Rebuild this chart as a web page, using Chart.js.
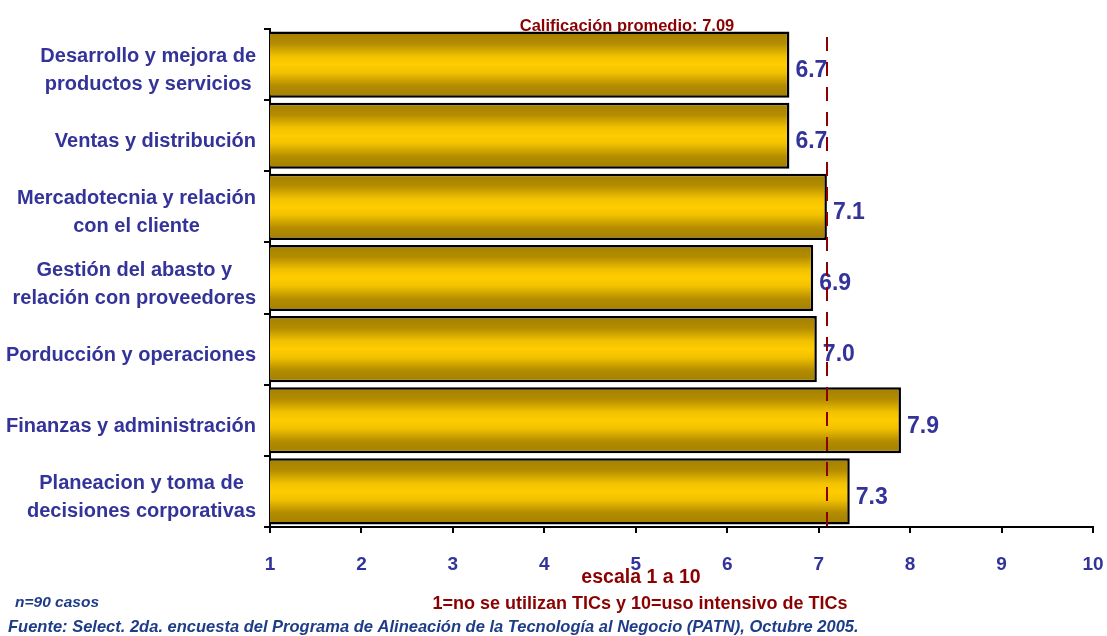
<!DOCTYPE html>
<html>
<head>
<meta charset="utf-8">
<script src="https://cdn.jsdelivr.net/npm/chart.js@4.4.1/dist/chart.umd.min.js"></script>
<style>
  html, body { margin: 0; padding: 0; background: #ffffff; }
  #wrap { width: 1107px; height: 636px; position: relative; }
</style>
</head>
<body>
<div id="wrap"><canvas id="c" width="1107" height="636"></canvas></div>
<script>
// Business areas (multi-line labels)
const categories = [
  ['Desarrollo y mejora de', 'productos y servicios'],
  ['Ventas y distribución'],
  ['Mercadotecnia y relación', 'con el cliente'],
  ['Gestión del abasto y', 'relación con proveedores'],
  ['Porducción y operaciones'],
  ['Finanzas y administración'],
  ['Planeacion y toma de', 'decisiones corporativas']
];
// Average ICT usage score per area (scale 1 to 10)
const scores = [6.68, 6.68, 7.09, 6.94, 6.98, 7.90, 7.34];
// Overall average score
const averageScore = [7.09];
// Tick values on the score axis
const scaleTicks = [1, 2, 3, 4, 5, 6, 7, 8, 9, 10];

const BLUE = '#333399';
const DARK_RED = '#8B0000';
const NAVY = '#1F3C88';
const FONT = '"Liberation Sans", Arial, sans-serif';
const BAR_PCT = 0.93;

// Vertical gold gradient for each bar
function barFill(ctx) {
  if (ctx.type !== 'data') return '#FFCC00';
  const chart = ctx.chart;
  const y = chart.scales.y;
  if (!y || !isFinite(y.height) || y.height <= 0) return '#FFCC00';
  const c = y.getPixelForValue(ctx.dataIndex);
  const half = (y.height / categories.length) * BAR_PCT / 2;
  const g = chart.ctx.createLinearGradient(0, c - half, 0, c + half);
  g.addColorStop(0, '#A37F00');
  g.addColorStop(0.18, '#B38C00');
  g.addColorStop(0.38, '#F2C200');
  g.addColorStop(0.5, '#FFCC00');
  g.addColorStop(0.62, '#F2C200');
  g.addColorStop(0.82, '#B38C00');
  g.addColorStop(1, '#A37F00');
  return g;
}

// Category labels: each block centred on itself, blocks right-aligned to the axis
const categoryLabels = {
  id: 'categoryLabels',
  afterDraw(chart) {
    const { ctx, scales: { y } } = chart;
    ctx.save();
    ctx.font = 'bold 20px ' + FONT;
    ctx.fillStyle = BLUE;
    ctx.textAlign = 'center';
    ctx.textBaseline = 'middle';
    const lineH = 28;
    const right = 256;
    categories.forEach((lines, i) => {
      const yc = y.getPixelForValue(i) + 6;
      const w = Math.max(...lines.map(l => ctx.measureText(l).width));
      const cx = right - w / 2;
      const top = yc - (lines.length - 1) * lineH / 2;
      lines.forEach((l, k) => ctx.fillText(l, cx, top + k * lineH));
    });
    ctx.restore();
  }
};

// Value labels at the end of each bar
const valueLabels = {
  id: 'valueLabels',
  afterDatasetsDraw(chart) {
    const { ctx } = chart;
    const meta = chart.getDatasetMeta(0);
    ctx.save();
    ctx.font = 'bold 23px ' + FONT;
    ctx.fillStyle = BLUE;
    ctx.textAlign = 'left';
    ctx.textBaseline = 'middle';
    meta.data.forEach((bar, i) => {
      ctx.fillText(scores[i].toFixed(1), bar.x + 6, bar.y + 6);
    });
    ctx.restore();
  }
};

// Dashed average line, its caption and the footnotes
const averageLine = {
  id: 'averageLine',
  beforeDatasetsDraw(chart) {
    const { ctx } = chart;
    ctx.save();
    ctx.font = 'bold 16.5px ' + FONT;
    ctx.fillStyle = DARK_RED;
    ctx.textAlign = 'center';
    ctx.textBaseline = 'middle';
    ctx.fillText('Calificación promedio: ' + averageScore[0].toFixed(2), 627, 26);
    ctx.restore();
  },
  afterDatasetsDraw(chart) {
    const { ctx, chartArea, scales: { x } } = chart;
    const px = Math.round(x.getPixelForValue(averageScore[0]));
    ctx.save();
    ctx.strokeStyle = DARK_RED;
    ctx.lineWidth = 2;
    ctx.setLineDash([14, 11]);
    ctx.beginPath();
    ctx.moveTo(px, 37);
    ctx.lineTo(px, chartArea.bottom);
    ctx.stroke();
    ctx.restore();
  },
  afterDraw(chart) {
    const { ctx } = chart;
    ctx.save();
    ctx.textBaseline = 'middle';
    ctx.fillStyle = DARK_RED;
    ctx.textAlign = 'center';
    ctx.font = 'bold 19.5px ' + FONT;
    ctx.fillText('escala 1 a 10', 641, 578);
    ctx.font = 'bold 18px ' + FONT;
    ctx.fillText('1=no se utilizan TICs y 10=uso intensivo de TICs', 640, 604);
    ctx.fillStyle = NAVY;
    ctx.textAlign = 'left';
    ctx.font = 'italic bold 15.5px ' + FONT;
    ctx.fillText('n=90 casos', 15, 603);
    ctx.font = 'italic bold 16.5px ' + FONT;
    ctx.fillText('Fuente: Select. 2da. encuesta del Programa de Alineación de la Tecnología al Negocio (PATN), Octubre 2005.', 8, 627);
    ctx.restore();
  }
};

new Chart(document.getElementById('c'), {
  type: 'bar',
  data: {
    labels: categories,
    datasets: [{
      data: scores,
      backgroundColor: barFill,
      borderColor: '#000000',
      borderWidth: 2.5,
      borderSkipped: false,
      barPercentage: BAR_PCT,
      categoryPercentage: 1
    }]
  },
  options: {
    indexAxis: 'y',
    responsive: false,
    devicePixelRatio: 1,
    animation: false,
    layout: { padding: { top: 29, right: 14, left: 0, bottom: 0 } },
    plugins: { legend: { display: false }, tooltip: { enabled: false }, title: { display: false } },
    scales: {
      x: {
        type: 'linear',
        min: 1,
        max: 10,
        afterBuildTicks(scale) { scale.ticks = scaleTicks.map(v => ({ value: v })); },
        afterFit(scale) {
          scale.height = 109;
          scale.paddingLeft = 0;
          scale.paddingRight = 0;
        },
        border: { display: true, color: '#000000', width: 2 },
        grid: { drawOnChartArea: false, drawTicks: true, tickLength: 6, color: '#000000', lineWidth: 2 },
        ticks: {
          color: BLUE,
          font: { family: FONT, size: 19, weight: 'bold' },
          padding: 20,
          maxRotation: 0
        }
      },
      y: {
        type: 'category',
        offset: true,
        afterFit(scale) { scale.width = 270; },
        border: { display: true, color: '#000000', width: 2 },
        grid: { offset: true, drawOnChartArea: false, drawTicks: true, tickLength: 6, color: '#000000', lineWidth: 2 },
        ticks: { display: false }
      }
    }
  },
  plugins: [categoryLabels, valueLabels, averageLine]
});
</script>
</body>
</html>
